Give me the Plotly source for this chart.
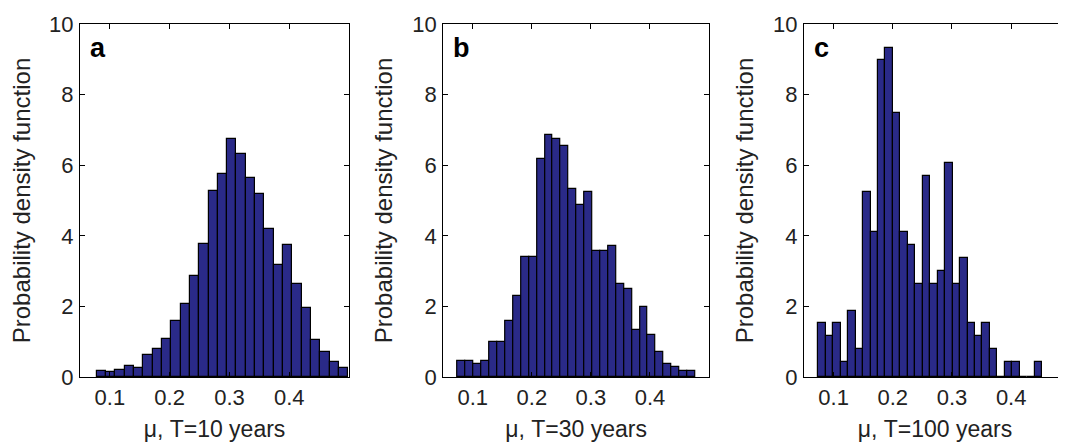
import numpy as np
import plotly.graph_objects as go

# ---- data ----
panel_letters = ["a", "b", "c"]
x_titles = ["μ, T=10 years", "μ, T=30 years", "μ, T=100 years"]
y_title = "Probability density function"
x_ticks = [0.1, 0.2, 0.3, 0.4]
x_tick_labels = ["0.1", "0.2", "0.3", "0.4"]
y_ticks = [0, 2, 4, 6, 8, 10]
y_tick_labels = ["0", "2", "4", "6", "8", "10"]

# histogram bin layout (first edge, bin width)
bins_a = (0.0779, 0.01559)
bins_b = (0.0744, 0.01341)
bins_c = (0.0742, 0.0126)

pdf_a = [0.16, 0.15, 0.20, 0.32, 0.25, 0.62, 0.78, 1.08, 1.60, 2.07, 2.85, 3.77,
         5.27, 5.75, 6.73, 6.32, 5.65, 5.19, 4.19, 3.16, 3.73, 2.64, 1.96, 1.04,
         0.70, 0.43, 0.26]
pdf_b = [0.44, 0.44, 0.36, 0.46, 0.99, 0.99, 1.58, 2.30, 3.39, 3.39, 6.17, 6.86,
         6.75, 6.55, 5.34, 4.88, 5.24, 3.58, 3.58, 3.70, 2.64, 2.49, 1.34, 1.98,
         1.20, 0.70, 0.37, 0.28, 0.18, 0.18]
pdf_c = [1.52, 1.15, 1.52, 0.42, 1.88, 0.79, 5.25, 4.10, 8.98, 9.31, 7.47, 4.10,
         3.74, 2.63, 5.70, 2.63, 3.01, 6.07, 2.63, 3.38, 1.52, 1.15, 1.52, 0.79,
         0.0, 0.42, 0.42, 0.0, 0.0, 0.42]

x_ranges = [[0.05, 0.5], [0.05, 0.5], [0.05, 0.4926]]

# ---- styling ----
# the page body adds an 8px margin, so the figure is sized to fill the window
W, H = 1058, 434
OFF = 8
FONT = "Liberation Sans, Arial, Helvetica, sans-serif"
BAR_COLOR = "#2a2a88"
x_domains = [[(80 - OFF) / W, (349 - OFF) / W],
             [(443.3 - OFF) / W, (709 - OFF) / W],
             [(804 - OFF) / W, 1.0]]
y_domain = [1 - (377 - OFF) / H, 1 - (24 - OFF) / H]

fig = go.Figure()
series = [(pdf_a, bins_a), (pdf_b, bins_b), (pdf_c, bins_c)]
for i, (vals, (x0, w)) in enumerate(series):
    centers = x0 + w * (np.arange(len(vals)) + 0.5)
    sfx = "" if i == 0 else str(i + 1)
    fig.add_trace(go.Bar(
        x=centers, y=vals, width=w,
        marker=dict(color=BAR_COLOR, line=dict(color="black", width=1.2)),
        xaxis="x" + sfx, yaxis="y" + sfx, showlegend=False,
    ))

layout = dict(
    width=W, height=H,
    margin=dict(l=0, r=0, t=0, b=0, autoexpand=False),
    paper_bgcolor="white", plot_bgcolor="white",
    bargap=0, font=dict(family=FONT, color="#111111"),
)
for i in range(3):
    sfx = "" if i == 0 else str(i + 1)
    layout["xaxis" + sfx] = dict(
        domain=x_domains[i], range=x_ranges[i], anchor="y" + sfx,
        tickmode="array", tickvals=x_ticks, ticktext=x_tick_labels,
        ticks="inside", ticklen=5, tickcolor="black",
        showline=True, linecolor="black", linewidth=1.2, mirror="ticks",
        showgrid=False, zeroline=False, fixedrange=True, automargin=False,
        tickfont=dict(size=22, family=FONT, color="#222222"),
        ticklabelstandoff=0,
        title=dict(text=x_titles[i], font=dict(size=23, family=FONT, color="#222222"),
                   standoff=13),
    )
    layout["yaxis" + sfx] = dict(
        domain=y_domain, range=[0, 10], anchor="x" + sfx,
        tickmode="array", tickvals=y_ticks, ticktext=y_tick_labels,
        ticks="inside", ticklen=5, tickcolor="black",
        showline=True, linecolor="black", linewidth=1.2,
        mirror=("ticks" if i < 2 else False),
        showgrid=False, zeroline=False, fixedrange=True, automargin=False,
        tickfont=dict(size=22, family=FONT, color="#222222"),
        ticklabelstandoff=1,
        title=dict(text=y_title, font=dict(size=24, family=FONT, color="#222222"),
                   standoff=12),
    )
fig.update_layout(**layout)

for i, letter in enumerate(panel_letters):
    sfx = "" if i == 0 else str(i + 1)
    fig.add_annotation(
        text="<b>%s</b>" % letter, xref="x%s domain" % sfx, yref="y%s domain" % sfx,
        x=0.03, y=0.933, xanchor="left", yanchor="middle", showarrow=False,
        font=dict(size=27, family=FONT, color="black"),
    )

fig.write_html("out.html")
